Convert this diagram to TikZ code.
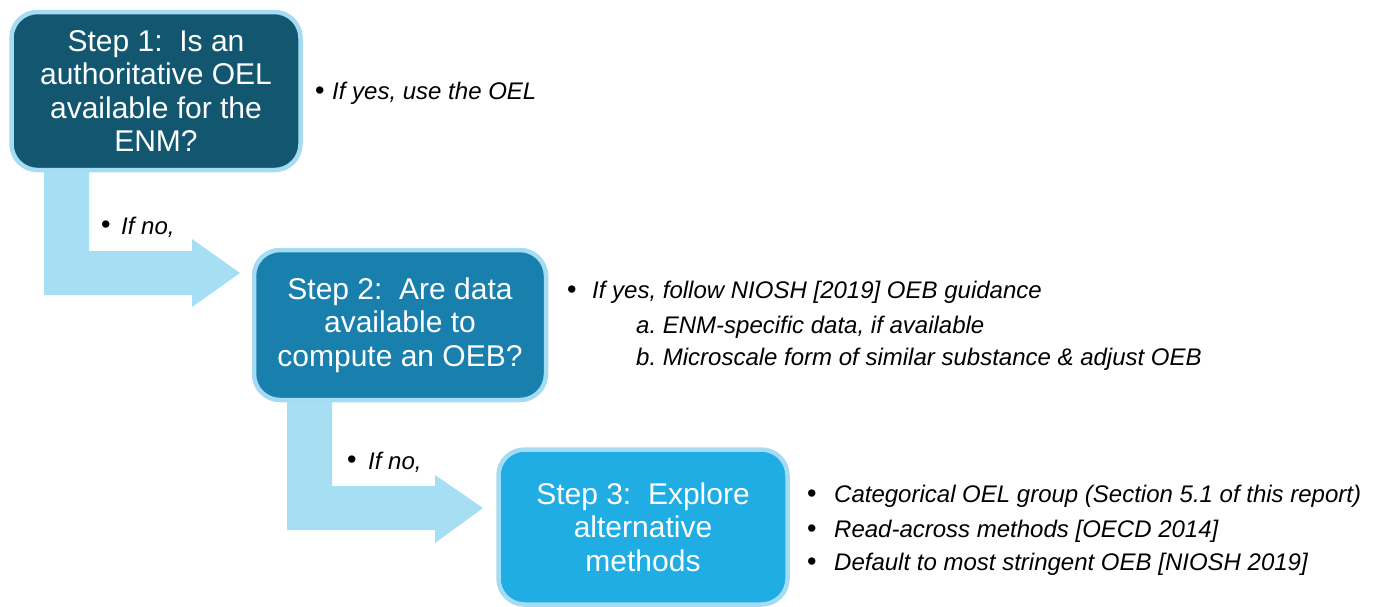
\documentclass[tikz,border=0pt]{standalone}
\usepackage{fontspec}
\setmainfont{Liberation Sans}
\definecolor{rim}{HTML}{A5DCF3}
\definecolor{arrowc}{HTML}{A6DEF4}
\definecolor{cA}{HTML}{12576F}
\definecolor{cB}{HTML}{1980AE}
\definecolor{cC}{HTML}{1FADE3}
\pgfdeclarelayer{background}
\pgfsetlayers{background,main}
\tikzset{
  stepbox/.style={draw=rim, line width=4.5pt, rounded corners=26pt, text=white,
    align=center, inner sep=0pt, font=\fontsize{30}{33.5}\selectfont},
  note/.style={anchor=west, inner sep=0pt, font=\fontsize{24}{28}\selectfont\itshape},
  bul/.style={anchor=west, inner sep=0pt, font=\fontsize{27}{28}\selectfont},
  bigarrow/.style={fill=arrowc, draw=none}
}
\begin{document}
\begin{tikzpicture}[x=1pt,y=-1pt]
\useasboundingbox (0,0) rectangle (1396,606);
\path (156,91) node[stepbox, fill=cA, minimum width=289, minimum height=158] (s1)
  {Step 1:\ \ Is an\\authoritative OEL\\available for the\\ENM?};
\path (400,325) node[stepbox, fill=cB, minimum width=292, minimum height=150] (s2)
  {Step 2:\ \ Are data\\available to\\compute an OEB?};
\path (643,527) node[stepbox, fill=cC, minimum width=289, minimum height=155] (s3)
  {Step 3:\ \ Explore\\alternative\\methods};
\begin{pgfonlayer}{background}
\fill[bigarrow] (44,168) -- (89,168) -- (89,251) -- (192,251) -- (192,239) -- (240,273)
  -- (192,307) -- (192,295) -- (44,295) -- cycle;
\fill[bigarrow] (287,402) -- (332,402) -- (332,486) -- (435,486) -- (435,475) -- (483,508)
  -- (435,543) -- (435,530) -- (287,530) -- cycle;
\end{pgfonlayer}
% notes
\node[bul] (b1) at (315,93) {\textbullet};
\node[note] (n1) at (332,93) {If yes, use the OEL};
\node[bul] (b2) at (101,227) {\textbullet};
\node[note] (n2) at (121,227) {If no,};
\node[bul] (b3) at (567,292) {\textbullet};
\node[note] (n3) at (592,292) {If yes, follow NIOSH [2019] OEB guidance};
\node[note] (n3a) at (636,327) {a.\ ENM-specific data, if available};
\node[note] (n3b) at (636,359) {b.\ Microscale form of similar substance \& adjust OEB};
\node[bul] (b4) at (347,462) {\textbullet};
\node[note] (n4) at (368,462) {If no,};
\node[bul] (b5) at (807,496) {\textbullet};
\node[note] (n5) at (834,496) {Categorical OEL group (Section 5.1 of this report)};
\node[bul] (b6) at (807,531) {\textbullet};
\node[note] (n6) at (834,531) {Read-across methods [OECD 2014]};
\node[bul] (b7) at (807,564) {\textbullet};
\node[note] (n7) at (834,564) {Default to most stringent OEB [NIOSH 2019]};
\end{tikzpicture}
\end{document}
